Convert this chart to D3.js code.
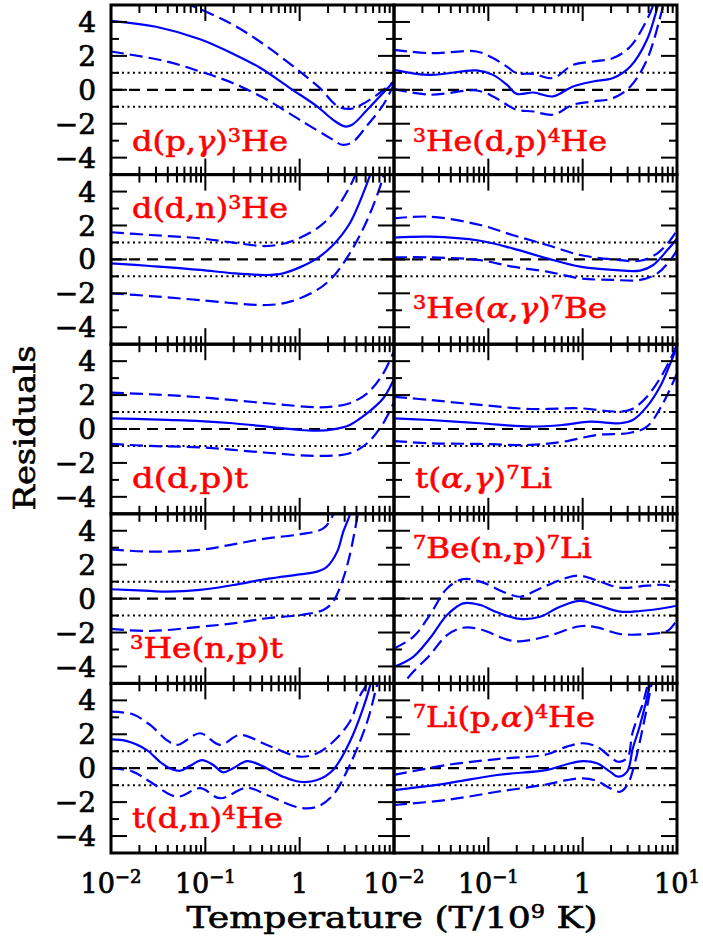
<!DOCTYPE html>
<html><head><meta charset="utf-8">
<script src="https://cdn.jsdelivr.net/npm/d3@7"></script>
<style>body{margin:0;background:#fff}svg{display:block}</style>
</head><body><svg id="c" width="703" height="941"></svg>
<script>
// ---------- DATA (T in 10^9 K, residual value) ----------
const dpg_mid=[[0.01,4.07],[0.03,3.72],[0.088,2.98],[0.197,2.12],[0.38,1.3],[0.79,0.1],[1.53,-0.98],[2.26,-1.77],[3.0,-2.16],[3.6,-2.06],[5.2,-1.18],[9.5,0.35],[10,0.45]];
const dpg_hi=[[0.01,6.3],[0.03,5.7],[0.069,5.0],[0.197,3.83],[0.45,2.55],[1.0,1.08],[1.64,0.1],[2.5,-0.95],[3.4,-1.13],[4.5,-0.88],[6.6,-0.3],[9.5,0.4],[10,0.5]];
const dpg_lo=[[0.01,2.26],[0.039,1.67],[0.088,1.08],[0.197,0.39],[0.45,-0.59],[1.0,-1.77],[2.26,-2.95],[2.8,-3.24],[3.6,-3.1],[5.2,-2.1],[7.7,-0.88],[10,0.35]];

const hedp_mid=[[0.01,1.18],[0.024,0.88],[0.075,1.14],[0.112,0.88],[0.157,0.3],[0.2,-0.24],[0.3,-0.16],[0.485,-0.39],[0.79,0.2],[1.29,0.49],[2.1,0.69],[3.2,1.37],[4.8,2.95],[6.3,5.0],[7.5,6.5]];
const hedp_hi=[[0.01,2.36],[0.024,2.16],[0.075,2.26],[0.112,1.87],[0.157,1.37],[0.2,0.98],[0.3,0.94],[0.485,0.69],[0.79,1.47],[1.29,1.67],[2.1,1.87],[3.2,2.55],[4.8,4.13],[5.6,5.0],[6.5,6.2]];
const hedp_lo=[[0.01,0.04],[0.024,-0.29],[0.075,-0.04],[0.112,-0.39],[0.157,-0.88],[0.2,-1.18],[0.3,-1.28],[0.485,-1.47],[0.79,-0.88],[1.29,-0.69],[2.1,-0.49],[3.2,0.2],[4.8,1.77],[7.1,4.9],[8,6]];

const ddn_mid=[[0.01,-0.23],[0.026,-0.39],[0.088,-0.62],[0.197,-0.82],[0.45,-0.92],[0.667,-0.82],[1.0,-0.47],[1.53,0.06],[2.26,0.85],[3.4,2.13],[5.6,4.98],[6.5,6]];
const ddn_hi=[[0.01,1.6],[0.026,1.44],[0.088,1.24],[0.197,0.99],[0.45,0.79],[0.79,1.04],[1.53,1.83],[2.26,2.72],[3.4,4.29],[3.9,5.0],[4.5,6]];
const ddn_lo=[[0.01,-2.0],[0.026,-2.16],[0.088,-2.4],[0.45,-2.69],[0.79,-2.49],[1.53,-1.8],[2.26,-1.02],[3.4,0.36],[5.2,2.32],[7.7,4.88],[8.5,6]];

const heag_mid=[[0.01,1.28],[0.024,1.34],[0.082,1.1],[0.18,0.65],[0.42,0.06],[0.94,-0.43],[2.1,-0.62],[4.06,-0.66],[5.6,-0.33],[7.9,0.55],[10,1.24]];
const heag_hi=[[0.01,2.42],[0.024,2.52],[0.082,2.03],[0.18,1.44],[0.42,0.85],[0.94,0.26],[2.1,0.0],[4.06,-0.08],[6.2,0.36],[8.5,1.14],[10,1.73]];
const heag_lo=[[0.01,0.12],[0.024,0.12],[0.082,-0.04],[0.18,-0.43],[0.42,-0.72],[0.94,-1.12],[2.1,-1.21],[4.06,-1.21],[6.2,-0.82],[8.5,-0.04],[10,0.55]];

const ddp_mid=[[0.01,0.63],[0.026,0.57],[0.088,0.47],[0.197,0.34],[0.45,0.14],[1.0,-0.06],[1.53,-0.1],[2.26,-0.02],[3.4,0.24],[5.2,0.93],[7.7,1.81],[9.5,2.69],[10,3.0]];
const ddp_hi=[[0.01,2.14],[0.026,2.05],[0.088,1.87],[0.45,1.52],[1.53,1.28],[2.26,1.32],[3.4,1.52],[5.2,2.1],[7.7,3.28],[10,4.6]];
const ddp_lo=[[0.01,-0.88],[0.026,-1.0],[0.088,-1.08],[0.45,-1.4],[1.53,-1.59],[3.4,-1.43],[5.2,-0.84],[7.7,0.34],[10,1.6]];

const tag_mid=[[0.01,0.63],[0.024,0.53],[0.082,0.34],[0.277,0.14],[0.62,0.24],[1.2,0.43],[2.5,0.34],[3.4,0.53],[4.8,1.32],[6.6,2.49],[8.5,3.87],[10,4.85]];
const tag_hi=[[0.01,1.9],[0.024,1.71],[0.082,1.42],[0.277,1.18],[0.94,1.22],[2.5,1.02],[3.4,1.2],[4.8,1.9],[7.1,3.28],[9.1,4.46],[10,5.0]];
const tag_lo=[[0.01,-0.71],[0.024,-0.84],[0.082,-0.88],[0.277,-0.94],[0.62,-0.75],[1.42,-0.35],[3.2,-0.22],[4.8,0.14],[7.1,1.52],[10,3.28]];

const henp_mid=[[0.01,0.55],[0.026,0.45],[0.039,0.41],[0.088,0.51],[0.197,0.8],[0.45,1.16],[1.0,1.43],[1.53,1.59],[1.95,1.88],[2.5,2.77],[2.9,3.95],[3.4,4.93],[3.8,6]];
const henp_hi=[[0.01,2.9],[0.026,2.77],[0.088,2.87],[0.197,3.2],[0.45,3.55],[1.0,3.79],[1.78,4.14],[2.26,4.93],[2.5,5.6]];
const henp_lo=[[0.01,-1.79],[0.026,-1.91],[0.088,-1.66],[0.197,-1.46],[0.45,-1.16],[1.0,-0.97],[1.78,-0.67],[2.26,-0.18],[2.9,1.2],[3.4,2.57],[4.0,4.53],[4.3,5.5]];

const benp_mid=[[0.01,-4.03],[0.016,-3.43],[0.024,-2.34],[0.0365,-0.97],[0.054,-0.28],[0.082,-0.38],[0.124,-0.81],[0.217,-1.2],[0.353,-1.07],[0.575,-0.48],[0.94,-0.14],[1.42,-0.38],[2.5,-0.77],[4.06,-0.73],[7.1,-0.57],[10,-0.42]];
const benp_hi=[[0.01,-2.94],[0.016,-2.26],[0.024,-0.97],[0.0365,0.6],[0.054,1.15],[0.082,1.0],[0.158,0.31],[0.217,0.11],[0.353,0.6],[0.68,1.23],[0.94,1.35],[1.53,1.0],[2.5,0.64],[4.8,0.76],[7.9,0.78],[10,0.45]];
const benp_lo=[[0.01,-5.5],[0.0125,-5.0],[0.016,-4.31],[0.024,-3.33],[0.0365,-2.15],[0.054,-1.72],[0.082,-1.81],[0.158,-2.42],[0.217,-2.52],[0.42,-2.22],[0.94,-1.63],[1.42,-1.7],[2.5,-2.09],[4.8,-2.09],[7.9,-1.91],[10,-1.26]];

const tdn_mid=[[0.01,1.7],[0.0148,1.6],[0.024,1.07],[0.033,0.38],[0.042,0.0],[0.054,-0.15],[0.069,0.14],[0.092,0.48],[0.121,0.19],[0.154,-0.24],[0.197,0.0],[0.277,0.42],[0.38,0.19],[0.667,-0.5],[1.0,-0.8],[1.53,-0.7],[2.26,-0.1],[3.4,1.56],[4.7,3.53],[5.6,4.9],[6.2,6]];
const tdn_hi=[[0.01,3.33],[0.017,3.18],[0.026,2.55],[0.039,1.66],[0.05,1.37],[0.088,2.06],[0.143,1.37],[0.233,1.96],[0.45,1.37],[1.0,0.68],[1.53,0.88],[2.26,1.56],[3.4,2.74],[4.4,4.32],[5.2,5.0],[5.8,6]];
const tdn_lo=[[0.01,0.0],[0.017,-0.2],[0.026,-0.8],[0.05,-1.68],[0.088,-1.18],[0.143,-1.77],[0.277,-1.15],[0.45,-1.58],[1.0,-2.33],[1.53,-2.27],[2.26,-1.58],[3.4,0.19],[5.2,2.74],[6.6,4.9],[7.5,6]];

const lipa_mid=[[0.01,-1.29],[0.0365,-0.89],[0.124,-0.4],[0.42,-0.1],[0.68,0.23],[1.0,0.42],[1.42,0.29],[1.95,-0.2],[2.37,-0.5],[2.96,-0.2],[3.4,1.17],[4.06,2.55],[5.2,5.0],[5.6,6]];
const lipa_hi=[[0.01,-0.4],[0.0365,0.19],[0.124,0.54],[0.42,0.82],[0.68,1.27],[1.0,1.47],[1.42,1.27],[1.95,0.68],[2.37,0.38],[2.96,0.6],[3.4,2.15],[4.4,3.92],[4.9,5.0],[5.3,6]];
const lipa_lo=[[0.01,-2.17],[0.0365,-1.87],[0.124,-1.39],[0.42,-0.95],[0.68,-0.7],[1.0,-0.6],[1.42,-0.75],[1.95,-1.18],[2.5,-1.39],[3.0,-0.95],[3.6,0.38],[4.4,2.55],[5.4,5.0],[5.9,6]];

const reactionLabels=["d(p,γ)^3He","^3He(d,p)^4He","d(d,n)^3He","^3He(α,γ)^7Be","d(d,p)t","t(α,γ)^7Li","^3He(n,p)t","^7Be(n,p)^7Li","t(d,n)^4He","^7Li(p,α)^4He"];
const yTickLabels=[4,2,0,-2,-4];
const xTickValues=[0.01,0.1,1,10];
const xTickBase=["10","10","1","10"];
const xTickSup=["−2","−1","","1"];
const xTitle="Temperature (T/10^9 K)";
const yTitle="Residuals";

// ---------- LAYOUT ----------
const series=[[dpg_mid,dpg_hi,dpg_lo],[hedp_mid,hedp_hi,hedp_lo],[ddn_mid,ddn_hi,ddn_lo],[heag_mid,heag_hi,heag_lo],
 [ddp_mid,ddp_hi,ddp_lo],[tag_mid,tag_hi,tag_lo],[henp_mid,henp_hi,henp_lo],[benp_mid,benp_hi,benp_lo],[tdn_mid,tdn_hi,tdn_lo],[lipa_mid,lipa_hi,lipa_lo]];
const labelPos=[[21,146,156],[19,146,194],[21,43.5,156],[19,143.5,194],[21,144,116],[21,144,137],[19,144.5,153],[19,44.5,179],[21,145,151],[19,43.5,182]];
const colX=[111,394], PW=283, top0=5, PH=169.6;
const FONT="DejaVu Serif";
const BLUE="#0000ff";

const svg=d3.select("#c");

function rich(sel,str,supSize,shift){
  const segs=[];
  for(let i=0;i<str.length;i++){const c=str[i];
    if(c==='^'){segs.push({t:str[++i],sup:true});}
    else if('αγ'.includes(c)){segs.push({t:c,greek:true});}
    else{const l=segs[segs.length-1]; if(l&&l.plain)l.t+=c; else segs.push({t:c,plain:true});}}
  let up=false;
  segs.forEach(s=>{const ts=sel.append("tspan").text(s.t);
    if(s.sup){ts.attr("font-size",supSize); if(!up){ts.attr("dy",-shift);up=true;}}
    else{if(up){ts.attr("dy",shift);up=false;} if(s.greek)ts.attr("font-style","italic");}});
}

series.forEach((ser,i)=>{
  const col=i%2,row=Math.floor(i/2);
  const x0=colX[col],x1=x0+PW,top=top0+row*PH,bot=top+PH;
  const x=d3.scaleLog().domain([0.01,10]).range([x0,x1]);
  const y=d3.scaleLinear().domain([-5,5]).range([bot,top]);
  const g=svg.append("g");
  const cid="clip"+i;
  g.append("clipPath").attr("id",cid).append("rect").attr("x",x0).attr("y",top).attr("width",PW).attr("height",PH);
  const inner=g.append("g").attr("clip-path",`url(#${cid})`);
  [1,-1].forEach(v=>inner.append("line").attr("x1",x0).attr("x2",x1).attr("y1",y(v)).attr("y2",y(v))
     .attr("stroke","#000").attr("stroke-width",2).attr("stroke-dasharray","2,3.5"));
  inner.append("line").attr("x1",x0).attr("x2",x1).attr("y1",y(0)).attr("y2",y(0))
     .attr("stroke","#000").attr("stroke-width",2.2).attr("stroke-dasharray","11,7");
  const line=d3.line().x(d=>x(d[0])).y(d=>y(d[1])).curve(d3.curveCatmullRom.alpha(0.5));
  ser.forEach((s,k)=>{
    inner.append("path").attr("d",line(s)).attr("fill","none").attr("stroke",BLUE)
      .attr("stroke-width",2.2).attr("stroke-dasharray",k===0?null:"13,6");
  });
  // ticks
  const tk=g.append("g").attr("stroke","#000").attr("stroke-width",2);
  x.ticks().forEach(t=>{
    const major=Math.abs(Math.log10(t)-Math.round(Math.log10(t)))<1e-6;
    const L=major?16:8;
    tk.append("line").attr("x1",x(t)).attr("x2",x(t)).attr("y1",top).attr("y2",top+L);
    tk.append("line").attr("x1",x(t)).attr("x2",x(t)).attr("y1",bot).attr("y2",bot-L);
  });
  d3.range(-4,5).forEach(v=>{
    const L=(v%2===0)?16:8;
    tk.append("line").attr("x1",x0).attr("x2",x0+L).attr("y1",y(v)).attr("y2",y(v));
    tk.append("line").attr("x1",x1).attr("x2",x1-L).attr("y1",y(v)).attr("y2",y(v));
  });
  g.append("rect").attr("x",x0).attr("y",top).attr("width",PW).attr("height",PH)
    .attr("fill","none").attr("stroke","#000").attr("stroke-width",3);
  // reaction label
  const lp=labelPos[i];
  const t=g.append("text").attr("x",x0+lp[0]).attr("y",top+lp[1]).attr("fill","#ff0000")
    .attr("stroke","#ff0000").attr("stroke-width",0.6)
    .attr("font-family",FONT).attr("font-size",28).attr("textLength",lp[2]).attr("lengthAdjust","spacingAndGlyphs");
  rich(t,reactionLabels[i],18,9);
  // y tick labels
  if(col===0){
    yTickLabels.forEach(v=>{
      g.append("text").attr("x",96).attr("y",y(v)).attr("dy","0.36em").attr("text-anchor","end")
        .attr("font-family",FONT).attr("font-size",28).attr("fill","#000").attr("stroke","#000").attr("stroke-width",0.7)
        .text(v<0?"−"+Math.abs(v):String(v));
    });
  }
  // x tick labels
  if(row===4){
    xTickValues.forEach((v,j)=>{
      if(col===0&&j===3)return;
      const t2=g.append("text").attr("x",x(v)).attr("y",893).attr("text-anchor","middle")
        .attr("font-family",FONT).attr("font-size",27).attr("fill","#000").attr("stroke","#000").attr("stroke-width",0.7);
      t2.append("tspan").text(xTickBase[j]);
      if(xTickSup[j]) t2.append("tspan").attr("font-size",18).attr("dy",-10).text(xTickSup[j]);
    });
  }
});

const xt=svg.append("text").attr("x",392).attr("y",928).attr("text-anchor","middle")
  .attr("font-family",FONT).attr("font-size",29).attr("fill","#000").attr("stroke","#000").attr("stroke-width",0.6)
  .attr("textLength",411).attr("lengthAdjust","spacingAndGlyphs");
rich(xt,xTitle,18,10);
svg.append("text").attr("transform","translate(35,428) rotate(-90)").attr("text-anchor","middle")
  .attr("font-family",FONT).attr("font-size",29).attr("fill","#000").attr("stroke","#000").attr("stroke-width",0.6)
  .attr("textLength",165).attr("lengthAdjust","spacingAndGlyphs")
  .text(yTitle);
</script></body></html>
